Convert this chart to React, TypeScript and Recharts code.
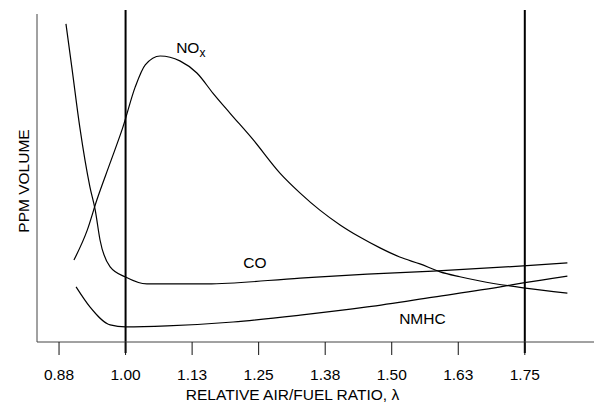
import React from 'react';
import { LineChart, Line, XAxis, YAxis, ReferenceLine, ReferenceDot } from 'recharts';

// x axis ticks (lambda) and their printed labels
const tickValues = [0.875, 1.0, 1.125, 1.25, 1.375, 1.5, 1.625, 1.75];
const tickLabels = ['0.88', '1.00', '1.13', '1.25', '1.38', '1.50', '1.63', '1.75'];

// NOx
const noxLambda = [0.903, 0.928, 0.946, 0.971, 0.995, 1.018, 1.037, 1.065, 1.102, 1.134, 1.164, 1.196, 1.24, 1.29, 1.328, 1.365, 1.403, 1.44, 1.478, 1.515, 1.553, 1.591, 1.628, 1.666, 1.747, 1.83];
const noxPpm = [25.0, 34.1, 43.3, 54.6, 65.5, 77.7, 84.5, 87.2, 85.7, 82.0, 75.9, 69.8, 61.6, 51.5, 45.4, 40.2, 35.7, 32.0, 28.7, 25.9, 23.8, 21.4, 19.9, 18.6, 16.5, 14.9];

// CO
const coLambda = [0.888, 0.899, 0.914, 0.933, 0.943, 0.952, 0.971, 1.0, 1.04, 1.153, 1.328, 1.454, 1.578, 1.747, 1.83];
const coPpm = [97.0, 83.8, 65.5, 47.3, 40.2, 31.1, 22.9, 19.8, 17.7, 17.7, 19.5, 20.7, 21.6, 23.2, 24.1];

// NMHC
const hcLambda = [0.907, 0.933, 0.971, 1.0, 1.078, 1.202, 1.328, 1.454, 1.578, 1.704, 1.747, 1.83];
const hcPpm = [16.8, 10.7, 5.2, 4.6, 4.9, 6.1, 8.2, 10.7, 13.7, 16.8, 18.0, 20.1];

// stoichiometric and lean limit markers
const markerLambdas = [1.0, 1.75];

const toPoints = (xs: number[], ys: number[]) => xs.map((x, i) => ({ lambda: x, ppm: ys[i] }));

const FONT = '"Liberation Sans", Arial, sans-serif';

const App = () => {
  const tickFmt = (v: number) => {
    const i = tickValues.indexOf(v);
    return i >= 0 ? tickLabels[i] : '';
  };

  const labelText = (text: React.ReactNode) => (p: any) => (
    <text x={p.cx} y={p.cy} fontFamily={FONT} fontSize={15.5} fill="#000">
      {text}
    </text>
  );

  return (
    <div style={{ position: 'absolute', left: 0, top: 0, background: '#fff' }}>
      <LineChart width={594} height={404} margin={{ top: 14, right: 0, bottom: 0, left: 0 }}>
        <XAxis
          type="number"
          dataKey="lambda"
          domain={[0.8336, 1.88]}
          allowDataOverflow
          ticks={tickValues}
          tickFormatter={tickFmt}
          interval={0}
          height={62}
          tickSize={13}
          tickMargin={14}
          stroke="#444"
          tickLine={{ stroke: '#111' }}
          tick={{ fill: '#000', fontFamily: FONT, fontSize: 15.5 }}
          label={{
            content: ({ viewBox }: any) => (
              <text
                x={viewBox.x + viewBox.width / 2 - 23}
                y={viewBox.y + 58}
                textAnchor="middle"
                fontFamily={FONT}
                fontSize={15.5}
                fill="#000"
              >
                RELATIVE AIR/FUEL RATIO, λ
              </text>
            ),
          }}
        />
        <YAxis
          type="number"
          domain={[0, 100]}
          allowDataOverflow
          width={37}
          tick={false}
          tickLine={false}
          stroke="#444"
          label={{
            content: ({ viewBox }: any) => {
              const cx = 23;
              const cy = viewBox.y + viewBox.height / 2 + 3;
              return (
                <text
                  x={cx}
                  y={cy}
                  transform={`rotate(-90, ${cx}, ${cy})`}
                  textAnchor="middle"
                  dominantBaseline="central"
                  fontFamily={FONT}
                  fontSize={15.5}
                  fill="#000"
                >
                  PPM VOLUME
                </text>
              );
            },
          }}
        />
        {markerLambdas.map((m) => (
          <ReferenceLine
            key={m}
            x={m}
            ifOverflow="visible"
            shape={(p: any) => (
              <line
                x1={p.x1}
                x2={p.x2}
                y1={Math.min(p.y1, p.y2) - 4}
                y2={Math.max(p.y1, p.y2) + 11}
                stroke="#000"
                strokeWidth={2}
              />
            )}
          />
        ))}
        <Line data={toPoints(noxLambda, noxPpm)} dataKey="ppm" type="monotone" stroke="#000" strokeWidth={1.2} dot={false} isAnimationActive={false} />
        <Line data={toPoints(coLambda, coPpm)} dataKey="ppm" type="monotone" stroke="#000" strokeWidth={1.2} dot={false} isAnimationActive={false} />
        <Line data={toPoints(hcLambda, hcPpm)} dataKey="ppm" type="monotone" stroke="#000" strokeWidth={1.2} dot={false} isAnimationActive={false} />
        <ReferenceDot x={1.095} y={88.1} r={0} ifOverflow="visible" shape={labelText(<>NO<tspan dy={4} fontSize={12}>x</tspan></>)} />
        <ReferenceDot x={1.221} y={22.6} r={0} ifOverflow="visible" shape={labelText('CO')} />
        <ReferenceDot x={1.514} y={5.5} r={0} ifOverflow="visible" shape={labelText('NMHC')} />
      </LineChart>
    </div>
  );
};

export default App;
